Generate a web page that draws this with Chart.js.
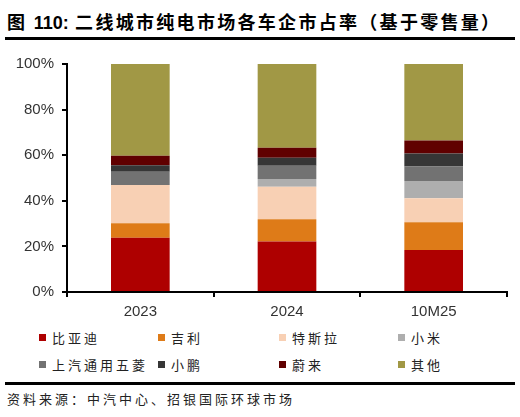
<!DOCTYPE html>
<html>
<head>
<meta charset="utf-8">
<script src="https://cdn.jsdelivr.net/npm/chart.js@4/dist/chart.umd.min.js"></script>
<style>
  body { margin: 0; background: #fff; }
  #wrap { position: relative; width: 520px; height: 417px; overflow: hidden; font-family: "Noto Sans CJK SC", sans-serif; }
  #title { position: absolute; left: 7px; top: 8px; font-size: 18px; font-weight: bold; letter-spacing: 2.3px; color: #000; white-space: nowrap; }
  #title .num { font-family: "Liberation Sans", Arial, sans-serif; letter-spacing: 0; }
  .rule { position: absolute; left: 5px; width: 510px; height: 3px; background: #000; }
  #box { position: absolute; left: 0; top: 47px; width: 520px; height: 278px; }
  .lg { position: absolute; font-size: 13px; letter-spacing: 3px; color: #222; white-space: nowrap; line-height: 16px; }
  .lg i { display: inline-block; width: 7px; height: 7px; margin-right: 6px; vertical-align: 2px; }
  #src { position: absolute; left: 7px; top: 391px; font-size: 13px; line-height: 16px; letter-spacing: 3px; color: #222; white-space: nowrap; }
</style>
</head>
<body>
<div id="wrap">
  <div id="title">图 <span class="num">110:</span> 二线城市纯电市场各车企市占率（基于零售量）</div>
  <div class="rule" style="top:37px"></div>
  <div id="box"><canvas id="c"></canvas></div>
  <div id="legend"></div>
  <div class="rule" style="top:382px"></div>
  <div id="src">资料来源：中汽中心、招银国际环球市场</div>
</div>
<script>
  var labels = ["2023", "2024", "10M25"];
  var brands = ["比亚迪", "吉利", "特斯拉", "小米", "上汽通用五菱", "小鹏", "蔚来", "其他"];
  var colors = ["#AE0000", "#DE7B18", "#F8D0B4", "#AEAEAE", "#727272", "#363636", "#600000", "#A19845"];
  var byd    = [23.8, 22.1, 18.4];
  var geely  = [6.3, 9.8, 12.2];
  var tesla  = [16.8, 14.3, 10.5];
  var xiaomi = [0, 3.4, 7.6];
  var wuling = [5.8, 5.8, 6.3];
  var xpeng  = [2.9, 3.5, 5.8];
  var nio    = [4.2, 4.4, 5.6];
  var others = [40.2, 36.7, 33.6];
  var series = [byd, geely, tesla, xiaomi, wuling, xpeng, nio, others];
  var yTicks = [0, 20, 40, 60, 80, 100];

  var datasets = [];
  for (var i = 0; i < brands.length; i++) {
    datasets.push({
      label: brands[i],
      data: series[i],
      backgroundColor: colors[i],
      borderWidth: 0,
      barPercentage: 0.4,
      categoryPercentage: 1.0
    });
  }

  new Chart("c", {
    type: "bar",
    data: { labels: labels, datasets: datasets },
    options: {
      responsive: true,
      maintainAspectRatio: false,
      animation: false,
      layout: { padding: { left: 0, right: 13, top: 14, bottom: 0 } },
      plugins: { legend: { display: false }, tooltip: { enabled: false } },
      scales: {
        x: {
          stacked: true,
          border: { color: "#000", width: 2 },
          grid: { offset: true, drawOnChartArea: false, color: "#000", lineWidth: 2, tickLength: 5 },
          ticks: { color: "#333", padding: 6, font: { family: "Liberation Sans", size: 15 } },
          afterFit: function (s) { s.height = 33; }
        },
        y: {
          stacked: true,
          min: 0,
          max: 100,
          afterBuildTicks: function (s) { s.ticks = yTicks.map(function (v) { return { value: v }; }); },
          border: { color: "#000", width: 2 },
          grid: { drawOnChartArea: false, color: "#000", lineWidth: 2, tickLength: 5 },
          ticks: {
            color: "#333",
            padding: 8,
            font: { family: "Liberation Sans", size: 15 },
            callback: function (v) { return v + "%"; }
          },
          afterFit: function (s) { s.width = 67; }
        }
      }
    }
  });

  // legend, 4 columns x 2 rows
  var colX = [39, 158, 279, 398];
  var rowY = [330, 357];
  var lg = document.getElementById("legend");
  for (var k = 0; k < brands.length; k++) {
    var d = document.createElement("div");
    d.className = "lg";
    d.style.left = colX[k % 4] + "px";
    d.style.top = rowY[Math.floor(k / 4)] + "px";
    d.innerHTML = '<i style="background:' + colors[k] + '"></i>' + brands[k];
    lg.appendChild(d);
  }
</script>
</body>
</html>
